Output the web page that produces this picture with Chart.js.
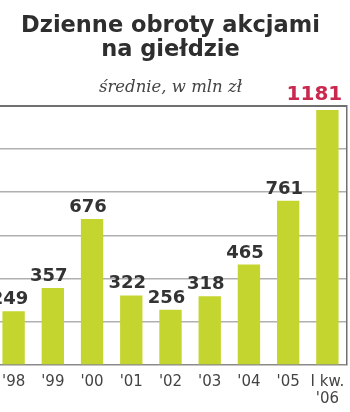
<!DOCTYPE html>
<html lang="pl">
<head>
<meta charset="utf-8">
<title>Dzienne obroty akcjami na giełdzie</title>
<script src="https://cdn.jsdelivr.net/npm/chart.js@4"></script>
<style>
  html, body { margin: 0; padding: 0; background: #fff; overflow: hidden; }
  body { width: 350px; height: 412px; position: relative; }
  #wrap { position: absolute; left: -7px; top: 0; width: 360px; height: 412px; }
</style>
</head>
<body>
<div id="wrap"><canvas id="chart" width="360" height="412"></canvas></div>
<script>
// Average daily share turnover on the Warsaw exchange, mln zł
const categories = ["'98", "'99", "'00", "'01", "'02", "'03", "'04", "'05", ["I kw.", "'06"]];
const turnover = [249, 357, 676, 322, 256, 318, 465, 761, 1181];
const yTicks = [0, 200, 400, 600, 800, 1000, 1200];
const highlightIndex = 8; // first quarter of 2006

const SANS = '"DejaVu Sans", sans-serif';
const SERIF = '"DejaVu Serif", "Liberation Serif", serif';

// Numbers printed above each bar
const valueLabels = {
  id: 'valueLabels',
  afterDatasetsDraw(chart) {
    const ctx = chart.ctx;
    const meta = chart.getDatasetMeta(0);
    meta.data.forEach((bar, i) => {
      const hi = i === highlightIndex;
      ctx.save();
      ctx.font = (hi ? 'bold 20px ' : 'bold 18px ') + SANS;
      ctx.fillStyle = hi ? '#c9284f' : '#333333';
      ctx.textAlign = 'center';
      ctx.textBaseline = 'alphabetic';
      ctx.fillText(String(turnover[i]), bar.x + (hi ? -13 : -4), bar.y - (hi ? 10 : 7));
      ctx.restore();
    });
  }
};

new Chart(document.getElementById('chart'), {
  type: 'bar',
  data: {
    labels: categories,
    datasets: [{
      data: turnover,
      backgroundColor: '#c5d52f',
      borderWidth: 0,
      categoryPercentage: 1,
      barPercentage: 0.57
    }]
  },
  options: {
    responsive: false,
    animation: false,
    layout: { padding: { left: 1, right: 6, top: 0, bottom: 0 } },
    plugins: {
      legend: { display: false },
      tooltip: { enabled: false },
      title: {
        display: true,
        text: ['Dzienne obroty akcjami', 'na giełdzie'],
        color: '#2e2e2e',
        font: { family: SANS, weight: 'bold', size: 22.5, lineHeight: 1.09 },
        padding: { top: 13.5, bottom: 0 }
      },
      subtitle: {
        display: true,
        text: 'średnie, w mln zł',
        color: '#444444',
        font: { family: SERIF, style: 'italic', size: 16.5, lineHeight: 1.2 },
        padding: { top: 15.5, bottom: 8 }
      }
    },
    scales: {
      x: {
        afterFit(scale) { scale.height = 47; },
        grid: { display: false, drawTicks: false },
        border: { display: false },
        ticks: {
          color: '#444444',
          font: { family: SANS, size: 15, lineHeight: 1.18 },
          padding: 8,
          maxRotation: 0,
          autoSkip: false
        }
      },
      y: {
        position: 'right',
        min: 0,
        max: 1200,
        afterBuildTicks(scale) { scale.ticks = yTicks.map(v => ({ value: v })); },
        ticks: { display: false },
        grid: {
          drawTicks: false,
          color: ctx => ctx.tick.value === 1200 ? '#707070' : (ctx.tick.value === 0 ? '#8a8a8a' : '#b0b0b0'),
          lineWidth: ctx => ctx.tick.value === 1200 ? 2 : 1.5
        },
        border: { display: true, color: '#707070', width: 1.5 }
      }
    }
  },
  plugins: [valueLabels]
});
</script>
</body>
</html>
